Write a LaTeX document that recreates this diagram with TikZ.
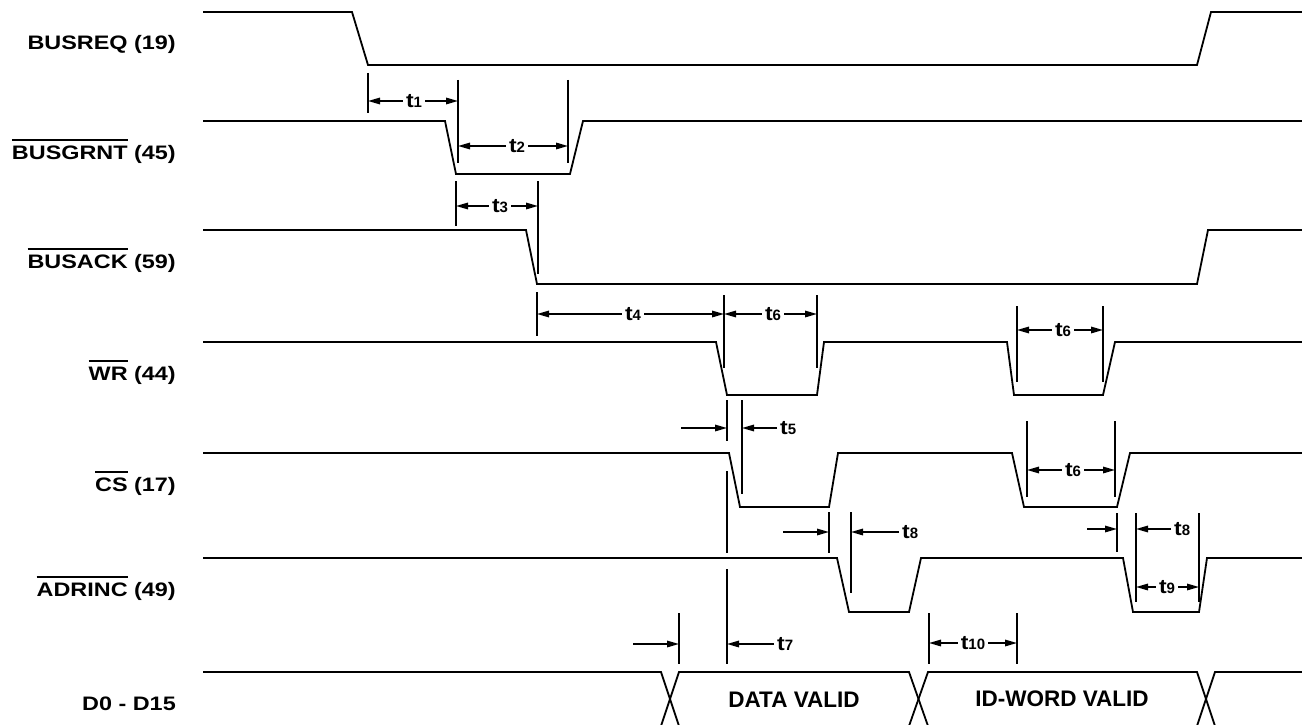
\documentclass[tikz,border=0pt]{standalone}
\usepackage{fontspec}
\setmainfont{Liberation Sans}
\usetikzlibrary{arrows.meta}
\newcommand\ovl[1]{\setbox0\hbox{#1}\rlap{\rule[18.5pt]{\wd0}{1.8pt}}\box0\relax}
\newcommand\sigtxt[1]{\scalebox{1.2}[1]{\fontsize{19.5}{20}\selectfont\bfseries #1}}
\newcommand\tlab[1]{\scalebox{1.15}[1]{\fontsize{20}{20}\selectfont\bfseries t}{\fontsize{15}{15}\selectfont\bfseries #1}}
\begin{document}
\begin{tikzpicture}[x=1pt,y=-1pt,
  wave/.style={line width=1.8pt,line join=miter},
  mk/.style={line width=1.8pt},
  arr/.style={line width=1.6pt,-{Triangle[length=12pt,width=6.5pt]}},
  tl/.style={inner sep=3pt},
  sl/.style={anchor=base east,inner sep=0pt},
  bus/.style={font=\fontsize{22.5}{23}\selectfont\bfseries}]
\useasboundingbox (0,0) rectangle (1302,725);
% signal labels
\node[sl] (lBR) at (176,50)  {\sigtxt{BUSREQ (19)}};
\node[sl] (lBG) at (176,159) {\sigtxt{\ovl{BUSGRNT} (45)}};
\node[sl] (lBA) at (176,268) {\sigtxt{\ovl{BUSACK} (59)}};
\node[sl] (lWR) at (176,380) {\sigtxt{\ovl{WR} (44)}};
\node[sl] (lCS) at (176,491) {\sigtxt{\ovl{CS} (17)}};
\node[sl] (lAD) at (176,596) {\sigtxt{\ovl{ADRINC} (49)}};
\node[sl] (lD)  at (176,710) {\sigtxt{D0 - D15}};
% waveforms
\draw[wave] (203,12)--(352,12)--(368,65)--(1197,65)--(1211,12)--(1302,12);
\draw[wave] (203,121)--(445,121)--(456,174)--(570,174)--(583,121)--(1302,121);
\draw[wave] (203,230)--(526,230)--(537,284)--(1197,284)--(1208,230)--(1302,230);
\draw[wave] (203,342)--(716,342)--(727,395)--(817,395)--(824,342)--(1007,342)--(1014,395)--(1103,395)--(1115,342)--(1302,342);
\draw[wave] (203,453)--(729,453)--(740,507)--(829,507)--(838,453)--(1012,453)--(1024,507)--(1117,507)--(1130,453)--(1302,453);
\draw[wave] (203,558)--(837,558)--(849,612)--(909,612)--(921,558)--(1123,558)--(1133,612)--(1199,612)--(1207,558)--(1302,558);
% data bus
\draw[wave] (203,672)--(661,672)--(679,726);
\draw[wave] (661,726)--(679,672)--(909,672)--(928,726);
\draw[wave] (909,726)--(928,672)--(1197,672)--(1215,726);
\draw[wave] (1197,726)--(1215,672)--(1302,672);
\draw[wave] (679,725.6)--(909,725.6);
\draw[wave] (928,725.6)--(1197,725.6);
\node[bus] (dv) at (794,700) {DATA VALID};
\node[bus] (iv) at (1062,699) {ID-WORD VALID};
% marker lines
\foreach \n/\x/\a/\b in {m1/368/73/113, m2/458/80/163, m3/568/80/163, m4/456/181/226, m5/538/181/274,
  m6/537/292/336, m7/724/295/368, m8/817/295/368, m9/1017/306/382, m10/1103/306/382,
  m11/727/400/441, m12/742/400/494, m13/1027/421/497, m14/1115/421/497,
  m15/727/471/553, m15b/727/569/664, m16/829/512/553, m17/851/512/593,
  m18/1117/513/552, m19/1136/513/602, m20/1199/513/602,
  m21/679/613/664, m22/929/613/664, m23/1017/613/664}
  {\coordinate (\n) at (\x,\a); \draw[mk] (\n) -- (\x,\b);}
% dimensions between two lines
\node[tl] (t1) at (414,101) {\tlab{1}};
\draw[arr] (t1.west) -- (t1.west -| m1); \draw[arr] (t1.east) -- (t1.east -| m2);
\node[tl] (t2) at (517,146) {\tlab{2}};
\draw[arr] (t2.west) -- (t2.west -| m2); \draw[arr] (t2.east) -- (t2.east -| m3);
\node[tl] (t3) at (500,206) {\tlab{3}};
\draw[arr] (t3.west) -- (t3.west -| m4); \draw[arr] (t3.east) -- (t3.east -| m5);
\node[tl] (t4) at (633,314) {\tlab{4}};
\draw[arr] (t4.west) -- (t4.west -| m6); \draw[arr] (t4.east) -- (t4.east -| m7);
\node[tl] (t6a) at (773,314) {\tlab{6}};
\draw[arr] (t6a.west) -- (t6a.west -| m7); \draw[arr] (t6a.east) -- (t6a.east -| m8);
\node[tl] (t6b) at (1063,330) {\tlab{6}};
\draw[arr] (t6b.west) -- (t6b.west -| m9); \draw[arr] (t6b.east) -- (t6b.east -| m10);
\node[tl] (t6c) at (1073,470) {\tlab{6}};
\draw[arr] (t6c.west) -- (t6c.west -| m13); \draw[arr] (t6c.east) -- (t6c.east -| m14);
\node[tl] (t9) at (1167,587) {\tlab{9}};
\draw[arr] (t9.west) -- (t9.west -| m19); \draw[arr] (t9.east) -- (t9.east -| m20);
\node[tl] (t10) at (973,643) {\tlab{10}};
\draw[arr] (t10.west) -- (t10.west -| m22); \draw[arr] (t10.east) -- (t10.east -| m23);
% dimensions with outside arrows
\node[tl,anchor=west] (t5) at (777,428) {\tlab{5}};
\coordinate (o5) at (681,428);
\draw[arr] (t5.west) -- (t5.west -| m12); \draw[arr] (o5) -- (o5 -| m11);
\node[tl,anchor=west] (t8a) at (899,532) {\tlab{8}};
\coordinate (o8a) at (783,532);
\draw[arr] (t8a.west) -- (t8a.west -| m17); \draw[arr] (o8a) -- (o8a -| m16);
\node[tl,anchor=west] (t8b) at (1171,529) {\tlab{8}};
\coordinate (o8b) at (1087,529);
\draw[arr] (t8b.west) -- (t8b.west -| m19); \draw[arr] (o8b) -- (o8b -| m18);
\node[tl,anchor=west] (t7) at (774,644) {\tlab{7}};
\coordinate (o7) at (633,644);
\draw[arr] (t7.west) -- (t7.west -| m15b); \draw[arr] (o7) -- (o7 -| m21);
\end{tikzpicture}
\end{document}
